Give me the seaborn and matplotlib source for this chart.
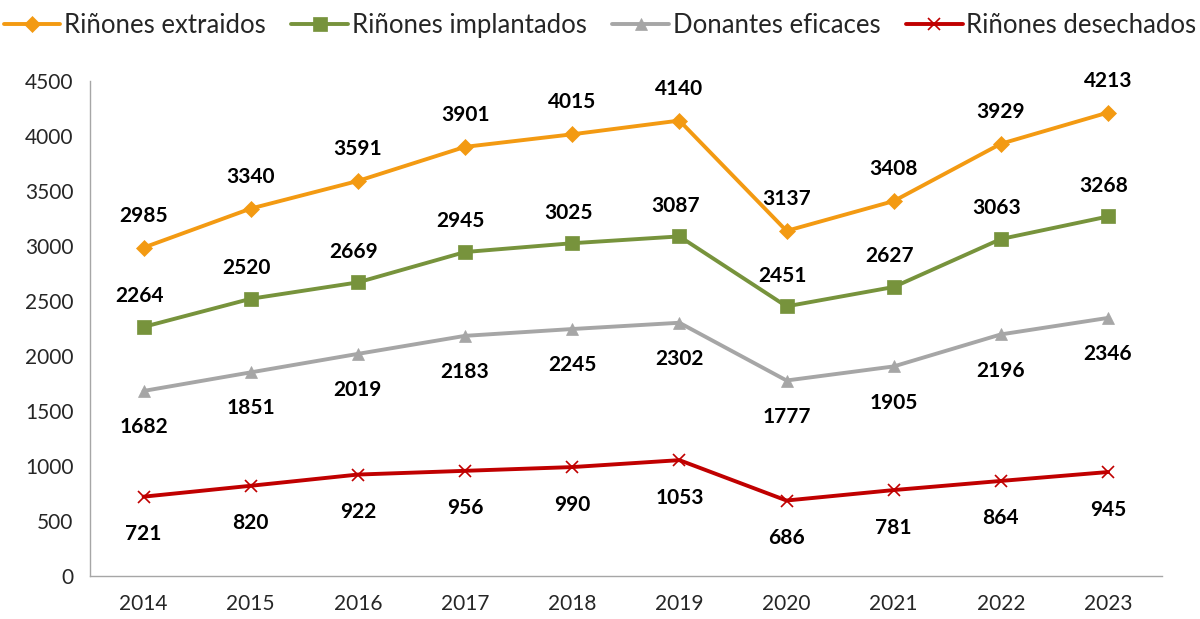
import matplotlib
matplotlib.use("Agg")
import matplotlib.pyplot as plt
import seaborn as sns
import pandas as pd
import numpy as np

years = ["2014", "2015", "2016", "2017", "2018", "2019", "2020", "2021", "2022", "2023"]
extraidos = [2985, 3340, 3591, 3901, 4015, 4140, 3137, 3408, 3929, 4213]
implantados = [2264, 2520, 2669, 2945, 3025, 3087, 2451, 2627, 3063, 3268]
donantes = [1682, 1851, 2019, 2183, 2245, 2302, 1777, 1905, 2196, 2346]
desechados = [721, 820, 922, 956, 990, 1053, 686, 781, 864, 945]

# name, values, colour, marker, marker size, label offset (points)
series = [
    ("Riñones extraidos", extraidos, "#F39A12", "D", 8, (0, 23)),
    ("Riñones implantados", implantados, "#77933C", "s", 10, (-3, 22)),
    ("Donantes eficaces", donantes, "#A6A6A6", "^", 9, (0, -26)),
    ("Riñones desechados", desechados, "#C00000", "x", 9, (0, -27)),
]

sns.set_style("white")
plt.rcParams["font.family"] = ["Lato", "DejaVu Sans"]

fig = plt.figure(figsize=(12, 6.19), dpi=100)
ax = fig.add_axes([0.075, 0.0695, 0.893, 0.7997])

xpos = np.arange(len(years))
for name, vals, col, mk, ms, off in series:
    df = pd.DataFrame({"x": xpos, "y": vals})
    sns.lineplot(data=df, x="x", y="y", ax=ax, color=col, linewidth=2.8,
                 marker=mk, markersize=ms, markeredgecolor=col,
                 markeredgewidth=1.2 if mk == "x" else 0.5, label=name)
    for x, v in zip(xpos, vals):
        ax.annotate(str(v), (x, v), xytext=off, textcoords="offset points",
                    ha="center", va="center", fontsize=15, fontweight="bold",
                    color="black")

ax.set_xlim(-0.5, len(years) - 0.5)
ax.set_ylim(0, 4500)
ax.set_yticks(np.arange(0, 4501, 500))
ax.set_xticks(xpos)
ax.set_xticklabels(years)
ax.set_xticks(np.arange(-0.5, len(years)), minor=True)
ax.tick_params(axis="x", which="major", length=0, pad=13, labelsize=15)
ax.tick_params(axis="x", which="minor", length=6, color="#A6A6A6", width=1)
ax.tick_params(axis="y", length=6, color="#A6A6A6", width=1, labelsize=15, pad=6)
ax.set_xlabel("")
ax.set_ylabel("")
for s in ["top", "right"]:
    ax.spines[s].set_visible(False)
for s in ["left", "bottom"]:
    ax.spines[s].set_color("#A6A6A6")
    ax.spines[s].set_linewidth(1)

ax.legend(loc="upper center", bbox_to_anchor=(0.5, 1.0), bbox_transform=fig.transFigure,
          ncol=4, frameon=False, fontsize=18.5, handlelength=2.2,
          handletextpad=0.15, columnspacing=1.0, borderaxespad=0.1)

fig.savefig("out.png", dpi=100)
